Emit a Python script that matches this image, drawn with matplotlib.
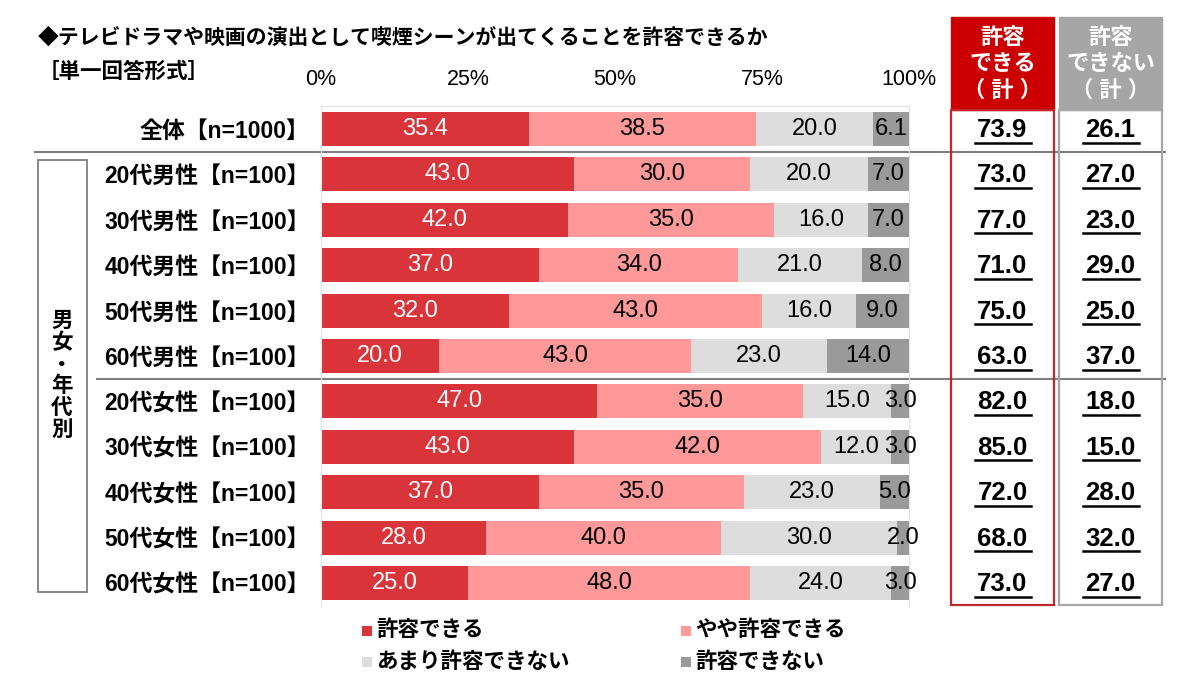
import matplotlib
matplotlib.use("Agg")
import matplotlib.pyplot as plt
import matplotlib.patches as mpatches
import matplotlib.transforms as mtransforms
import numpy as np

plt.rcParams["font.family"] = ["Liberation Sans", "Noto Sans CJK JP", "DejaVu Sans"]

# --- data ---------------------------------------------------------------
groups = ["全体【n=1000】",
          "20代男性【n=100】", "30代男性【n=100】", "40代男性【n=100】",
          "50代男性【n=100】", "60代男性【n=100】",
          "20代女性【n=100】", "30代女性【n=100】", "40代女性【n=100】",
          "50代女性【n=100】", "60代女性【n=100】"]
series_names = ["許容できる", "やや許容できる", "あまり許容できない", "許容できない"]
allow = [35.4, 43.0, 42.0, 37.0, 32.0, 20.0, 47.0, 43.0, 37.0, 28.0, 25.0]
somewhat = [38.5, 30.0, 35.0, 34.0, 43.0, 43.0, 35.0, 42.0, 35.0, 40.0, 48.0]
not_much = [20.0, 20.0, 16.0, 21.0, 16.0, 23.0, 15.0, 12.0, 23.0, 30.0, 24.0]
not_allow = [6.1, 7.0, 7.0, 8.0, 9.0, 14.0, 3.0, 3.0, 5.0, 2.0, 3.0]
total_ok = [73.9, 73.0, 77.0, 71.0, 75.0, 63.0, 82.0, 85.0, 72.0, 68.0, 73.0]
total_ng = [26.1, 27.0, 23.0, 29.0, 25.0, 37.0, 18.0, 15.0, 28.0, 32.0, 27.0]
ticks = [0, 25, 50, 75, 100]
tick_labels = ["0%", "25%", "50%", "75%", "100%"]

colors = ["#D8343A", "#FF9999", "#DDDDDD", "#9A9A9A"]
text_colors = ["white", "black", "black", "black"]

W, H = 1200, 695
fig = plt.figure(figsize=(12, 6.95), dpi=100)
fig.patch.set_facecolor("white")

# overlay axes in pixel coords for frames / table / legend
ov = fig.add_axes([0, 0, 1, 1], zorder=0)
ov.set_xlim(0, W)
ov.set_ylim(H, 0)
ov.axis("off")

# --- bar chart ----------------------------------------------------------
row0, dy = 129, 45.4
n = len(groups)
top_px = row0 - dy / 2
bot_px = top_px + n * dy
ax = fig.add_axes([321 / W, 1 - bot_px / H, 588 / W, (n * dy) / H], zorder=1)
ax.patch.set_alpha(0)

y = np.arange(n)
left = np.zeros(n)
for vals, c, tc, name in zip([allow, somewhat, not_much, not_allow],
                             colors, text_colors, series_names):
    cont = ax.barh(y, vals, left=left, height=0.75, color=c, label=name)
    ax.bar_label(cont, labels=[f"{v:.1f}" for v in vals], label_type="center",
                 color=tc, fontsize=17)
    left += np.array(vals)

ax.set_xlim(0, 100)
ax.set_ylim(n - 0.5, -0.5)
ax.xaxis.tick_top()
ax.set_xticks(ticks)
ax.set_xticklabels(tick_labels, fontsize=15.5)
ax.tick_params(axis="x", length=0, pad=12)
ax.set_yticks(y)
ax.set_yticklabels(groups, fontsize=16.5, fontweight="bold")
ax.tick_params(axis="y", length=0, pad=8)
for s in ax.spines.values():
    s.set_color("#E3E3E3")
    s.set_linewidth(0.8)
ax.spines["bottom"].set_visible(False)

# --- title ---------------------------------------------------------------
fig.text(38 / W, 1 - 38 / H, "◆テレビドラマや映画の演出として喫煙シーンが出てくることを許容できるか",
         fontsize=15, fontweight="bold", va="center", ha="left")
fig.text(38 / W, 1 - 72 / H, "［単一回答形式］",
         fontsize=15.5, fontweight="bold", va="center", ha="left")

# --- separators & group box ---------------------------------------------
bt = mtransforms.blended_transform_factory(ov.transData, ax.transData)
ov.plot([35, 1165], [0.5, 0.5], color="#7F7F7F", lw=1.5, transform=bt, zorder=3)
ov.plot([97, 1165], [5.5, 5.5], color="#7F7F7F", lw=1.5, transform=bt, zorder=3)
ov.add_patch(mpatches.Rectangle((38, 160), 49, 432, fill=False,
                                edgecolor="#7F7F7F", lw=1.3))
ov.text(62, 376, "男\n女\n・\n年\n代\n別", fontsize=15.5, fontweight="bold",
        ha="center", va="center", linespacing=1.05)

# --- summary table ------------------------------------------------------
cols = [(951, 1054, "#CC0000", "#C0272D", "許容\nできる\n（ 計 ）", total_ok),
        (1059, 1162, "#A6A6A6", "#A6A6A6", "許容\nできない\n（ 計 ）", total_ng)]
for x0, x1, fc, ec, head, vals in cols:
    ov.add_patch(mpatches.Rectangle((x0, 17), x1 - x0, 93, facecolor=fc,
                                    edgecolor=fc, zorder=2))
    ov.text((x0 + x1) / 2, 65, head, color="white", fontsize=16,
            fontweight="bold", ha="center", va="center", linespacing=1.3, zorder=4)
    ov.add_patch(mpatches.Rectangle((x0, 110), x1 - x0, 495, fill=False,
                                    edgecolor=ec, lw=1.6, zorder=4))
    xc = (x0 + x1) / 2
    for i, v in enumerate(vals):
        ov.text(xc, i + 0.02, f"{v:.1f}", transform=bt, fontsize=18.5,
                fontweight="bold", ha="center", va="center", zorder=4)
        ov.plot([xc - 28, xc + 28], [i + 0.3, i + 0.3], color="black",
                lw=1.8, transform=bt, zorder=4)

# --- legend -------------------------------------------------------------
leg_pos = [(362, 631), (681, 631), (362, 662), (681, 662)]
for (lx, ly), c, name in zip(leg_pos, colors, series_names):
    ov.add_patch(mpatches.Rectangle((lx, ly - 5), 10, 10, facecolor=c,
                                    edgecolor="none"))
    ov.text(lx + 14, ly, name, fontsize=15.5, fontweight="bold",
            ha="left", va="center")

fig.savefig("out.png", dpi=100, facecolor="white")
